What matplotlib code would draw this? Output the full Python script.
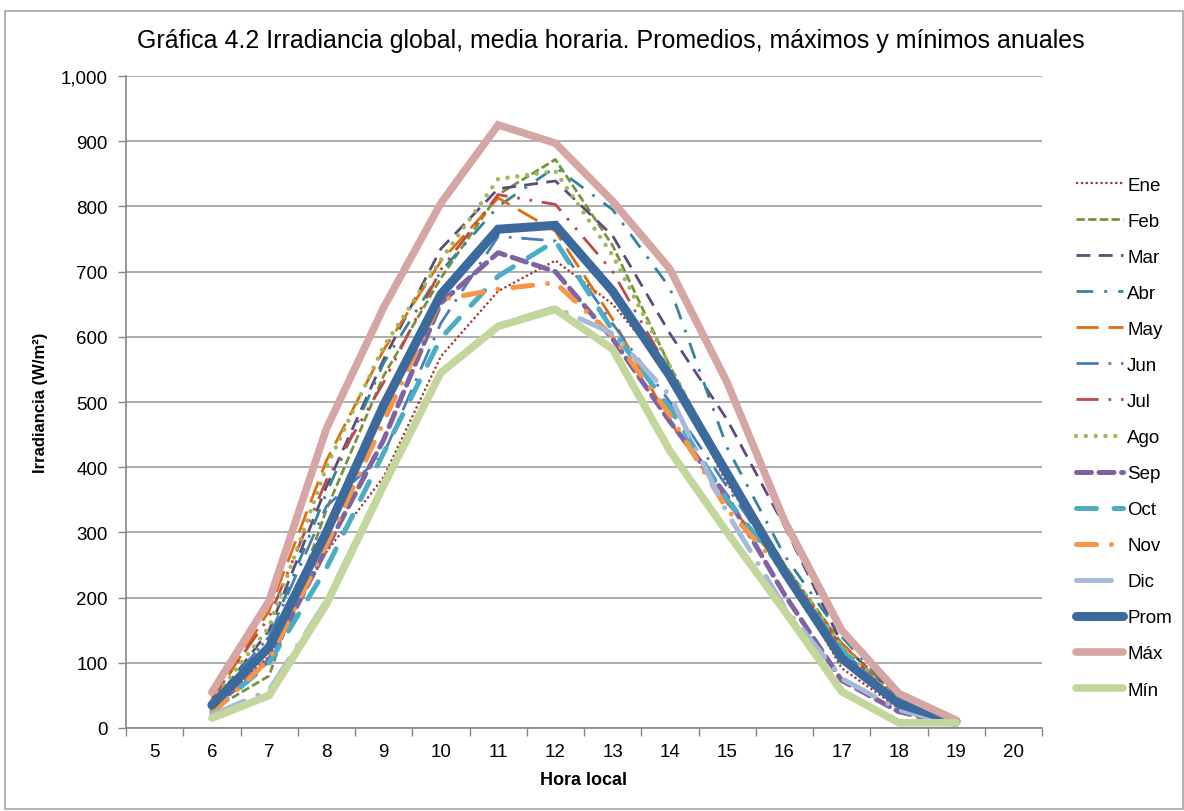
import numpy as np
import matplotlib
matplotlib.use("Agg")
import matplotlib.pyplot as plt
from matplotlib.patches import Rectangle
from matplotlib.ticker import FuncFormatter, FixedLocator

plt.rcParams['font.family'] = ['Liberation Sans', 'DejaVu Sans']

# categorías del eje x (hora local)
horas_cat = [5, 6, 7, 8, 9, 10, 11, 12, 13, 14, 15, 16, 17, 18, 19, 20]
horas = [6, 7, 8, 9, 10, 11, 12, 13, 14, 15, 16, 17, 18, 19]

# irradiancia (W/m2)
ene = [30, 110, 270, 385, 570, 670, 717, 650, 545, 375, 245, 92, 30, 5]
feb = [28, 80, 335, 540, 690, 818, 872, 740, 555, 390, 250, 130, 45, 8]
mar = [35, 150, 370, 565, 735, 827, 839, 755, 605, 473, 310, 130, 45, 8]
abr = [38, 140, 360, 560, 700, 800, 860, 795, 675, 430, 265, 140, 45, 8]
may = [40, 180, 410, 580, 716, 813, 762, 627, 470, 345, 245, 130, 40, 8]
jun = [38, 140, 340, 420, 621, 754, 747, 620, 500, 370, 240, 120, 38, 8]
jul = [45, 170, 380, 530, 703, 818, 803, 700, 546, 380, 245, 125, 38, 8]
ago = [42, 155, 400, 585, 718, 842, 854, 725, 555, 390, 250, 125, 40, 8]
sep = [30, 104, 275, 442, 652, 729, 700, 597, 470, 355, 205, 73, 25, 5]
octu = [25, 100, 245, 422, 598, 693, 747, 610, 490, 350, 240, 120, 35, 5]
nov = [22, 105, 280, 470, 657, 673, 683, 601, 480, 335, 240, 110, 35, 5]
dic = [20, 58, 195, 375, 547, 618, 645, 605, 510, 330, 186, 76, 28, 5]
prom = [35, 124, 300, 495, 665, 765, 771, 670, 540, 390, 240, 107, 37, 10]
maxi = [55, 195, 459, 645, 805, 925, 897, 808, 704, 530, 318, 150, 53, 12]
mini = [15, 50, 190, 372, 545, 616, 642, 581, 425, 300, 180, 56, 8, 8]

series = [
    ("Ene", ene, "#A0352F", 1.6, (1, 1.2), "butt"),
    ("Feb", feb, "#77933C", 2.0, (3, 1.2), "butt"),
    ("Mar", mar, "#604A7B", 2.0, (5, 3), "butt"),
    ("Abr", abr, "#31859C", 2.0, (6, 4, 1, 4), "butt"),
    ("May", may, "#E46C0A", 2.0, (8, 3.5), "butt"),
    ("Jun", jun, "#4A7EBB", 2.0, (8, 3.5, 1, 3.5), "butt"),
    ("Jul", jul, "#BE4B48", 2.0, (8, 3.5, 1, 3.5, 1, 3.5), "butt"),
    ("Ago", ago, "#9BBB59", 3.2, (0.01, 2.2), "round"),
    ("Sep", sep, "#8064A2", 3.6, (3, 1.5), "round"),
    ("Oct", octu, "#4BACC6", 3.6, (4, 3.5), "round"),
    ("Nov", nov, "#F79646", 3.6, (4, 3, 0.01, 3), "round"),
    ("Dic", dic, "#A6B9D9", 3.6, (7, 3, 0.01, 3), "round"),
    ("Prom", prom, "#3D6A9D", 6.5, None, "round"),
    ("Máx", maxi, "#D6A6A5", 5.5, None, "round"),
    ("Mín", mini, "#C3D69B", 5.5, None, "round"),
]

fig = plt.figure(figsize=(11.84, 8.12), dpi=100)
ax = fig.add_axes([126 / 1184, 1 - 729 / 812, (1042 - 126) / 1184, (729 - 77) / 812])

x = [horas_cat.index(h) for h in horas]
for nombre, vals, color, lw, dashes, cap in series:
    line, = ax.plot(x, vals, color=color, lw=lw, label=nombre,
                    solid_capstyle=cap, dash_capstyle=cap, solid_joinstyle="miter")
    if dashes is not None:
        line.set_dashes(dashes)

ax.set_xlim(-0.5, len(horas_cat) - 0.5)
ax.set_ylim(0, 1000)
ax.set_yticks(np.arange(0, 1001, 100))
ax.yaxis.set_major_formatter(FuncFormatter(lambda v, p: f"{int(v):,}"))
ax.set_xticks(range(len(horas_cat)))
ax.set_xticklabels([str(h) for h in horas_cat])
ax.xaxis.set_minor_locator(FixedLocator(np.arange(-0.5, len(horas_cat), 1)))
ax.tick_params(axis="x", which="major", length=0, pad=11, labelsize=13.5)
ax.tick_params(axis="x", which="minor", length=6, color="#868686", width=1)
ax.tick_params(axis="y", length=6, color="#868686", width=1, labelsize=13.5, pad=7)

ax.grid(axis="y", color="#A0A0A0", lw=1.2)
ax.set_axisbelow(True)
for s in ["top", "right"]:
    ax.spines[s].set_visible(False)
for s in ["left", "bottom"]:
    ax.spines[s].set_color("#868686")
    ax.spines[s].set_linewidth(1.2)

ax.set_xlabel("Hora local", fontsize=13, fontweight="bold", labelpad=8)
ax.set_ylabel("Irradiancia (W/m²)", fontsize=12, fontweight="bold", labelpad=9)
fig.text(0.516, 0.949, "Gráfica 4.2 Irradiancia global, media horaria. Promedios, máximos y mínimos anuales",
         ha="center", va="center", fontsize=18)

ax.legend(loc="upper left", bbox_to_anchor=(1068 / 1184, 1 - 170 / 812),
          bbox_transform=fig.transFigure, frameon=False, fontsize=13.5,
          handlelength=2.55, handletextpad=0.2, labelspacing=1.01, borderaxespad=0)

fig.patches.append(Rectangle((5 / 1184, 0.002), 1 - 6 / 1184, 1 - 12 / 812 - 0.002,
                             transform=fig.transFigure, fill=False,
                             edgecolor="#A6A6A6", lw=1.2))

plt.savefig("out.png", dpi=100)
